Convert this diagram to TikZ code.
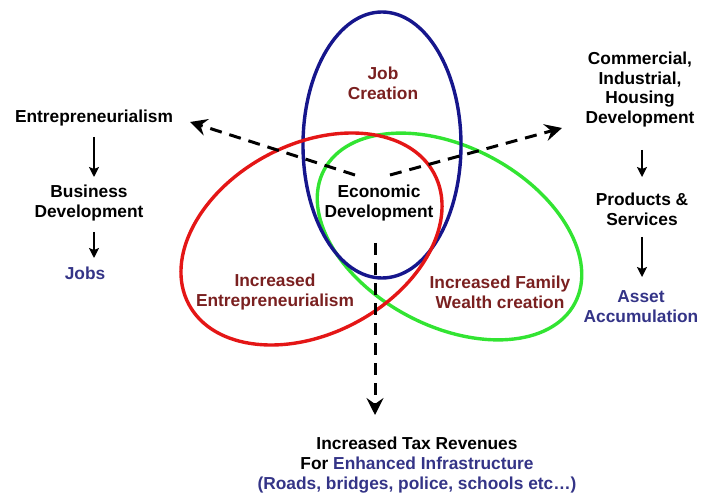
\documentclass[tikz,border=0pt]{standalone}
\usepackage{fontspec}
\setmainfont{Liberation Sans}
\usetikzlibrary{arrows.meta}
\definecolor{txtred}{RGB}{122,32,32}
\definecolor{txtblue}{RGB}{52,52,135}
\definecolor{ellblue}{RGB}{22,22,140}
\definecolor{ellred}{RGB}{228,22,22}
\definecolor{ellgreen}{RGB}{50,228,50}
\tikzset{
  lbl/.style={font=\fontsize{17.4}{20}\selectfont\bfseries, align=center, inner sep=1bp},
  ring/.style={line width=3.4bp},
  flowarrow/.style={line width=3bp, dash pattern=on 12bp off 8bp, -{Stealth[length=17bp,width=17bp,inset=6bp]}},
  steparrow/.style={line width=1.5bp, -{Stealth[length=10bp,width=10bp,inset=2bp]}}
}
\begin{document}
\begin{tikzpicture}[x=1bp,y=-1bp]
\useasboundingbox (0,0) rectangle (701,493);
% ellipses
\draw[ring, ellgreen, rotate around={-28:(449.5,236.5)}] (449.5,236.5) ellipse [x radius=142bp, y radius=89.5bp];
\draw[ring, ellblue] (382,145) ellipse [x radius=79bp, y radius=133bp];
\draw[ring, ellred, rotate around={28:(311.5,239)}] (311.5,239) ellipse [x radius=139bp, y radius=94.6bp];
% centre texts
\node[lbl, text=txtred] (jobcr) at (383,83) {Job\\Creation};
\node[lbl] (econ) at (379,203) {Economic\\Development};
\node[lbl, text=txtred] (incent) at (275,292) {Increased\\Entrepreneurialism};
\node[lbl, text=txtred] (incfam) at (500,292) {Increased Family\\Wealth creation};
% left column
\node[lbl] (entre) at (94,118) {Entrepreneurialism};
\node[lbl] (busdev) at (89,203) {Business\\Development};
\node[lbl, text=txtblue] (jobs) at (85,273) {Jobs};
% right column
\node[lbl] (comm) at (640,89.5) {Commercial,\\Industrial,\\Housing\\Development};
\node[lbl] (prod) at (642,209.5) {Products \&\\Services};
\node[lbl, text=txtblue] (asset) at (641,307) {Asset\\Accumulation};
% bottom
\node[lbl] (tax) at (417,465) {Increased Tax Revenues\\For \textcolor{txtblue}{Enhanced Infrastructure}\\\textcolor{txtblue}{(Roads, bridges, police, schools etc…)}};
% connector ends
\coordinate (lstart) at (355,175);
\coordinate (ltip) at (190,122);
\coordinate (rstart) at (390,175);
\coordinate (rtip) at (562,128);
\coordinate (dstart) at (375,243);
\coordinate (dtip) at (375,415);
\draw[flowarrow] (lstart) -- (ltip);
\draw[flowarrow] (rstart) -- (rtip);
\draw[flowarrow] (dstart) -- (dtip);
% step arrows
\draw[steparrow] (94,137) -- (94,177);
\draw[steparrow] (94,232) -- (94,258);
\draw[steparrow] (642,150) -- (642,177);
\draw[steparrow] (642,237) -- (642,277);
\end{tikzpicture}
\end{document}
